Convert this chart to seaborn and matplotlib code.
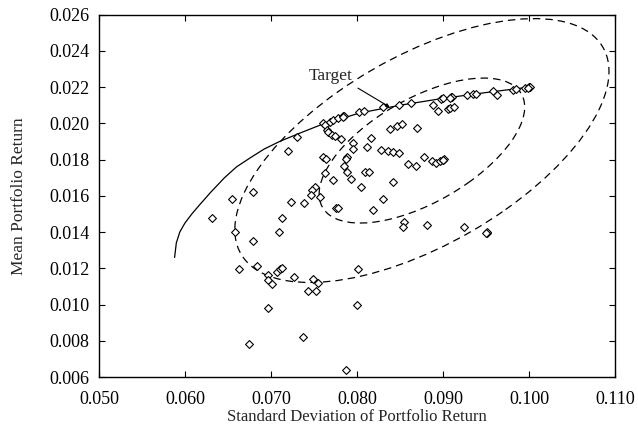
import numpy as np
import pandas as pd
import matplotlib
matplotlib.use("Agg")
import matplotlib.pyplot as plt
import matplotlib.transforms as transforms
from matplotlib.patches import Ellipse
import seaborn as sns

# ── Data ──────────────────────────────────────────────────────────────────────
port_std = [
    0.07306, 0.07200, 0.07608, 0.07628, 0.07647, 0.07660, 0.07705, 0.07744,
    0.07814, 0.07686, 0.07725, 0.07783, 0.07841, 0.07850, 0.07835, 0.08023,
    0.08081, 0.08306, 0.08488, 0.08628, 0.08888, 0.08946, 0.08977, 0.09004,
    0.09093, 0.09100, 0.09085, 0.09062, 0.09081, 0.09132, 0.09275, 0.09345,
    0.09384, 0.09585, 0.09632, 0.09810, 0.09849, 0.09953, 0.10004, 0.09995,
    0.10010, 0.09990,
    0.08384, 0.08461, 0.08520, 0.08694, 0.08160, 0.07957, 0.07957, 0.08113,
    0.08279, 0.08364, 0.08422, 0.08492, 0.07601, 0.07640, 0.07880, 0.07872,
    0.08597, 0.08686, 0.07853, 0.07880, 0.08093, 0.08143, 0.07628, 0.07725,
    0.07930, 0.08414, 0.08043, 0.07512, 0.07480, 0.07462, 0.07570, 0.08306,
    0.07229, 0.07384, 0.07756, 0.07783, 0.08183, 0.07124, 0.08547, 0.08539,
    0.08783, 0.08868, 0.08919, 0.08965, 0.09004, 0.09010, 0.08998, 0.08810,
    0.09248, 0.09508, 0.09515, 0.09500, 0.06795, 0.06550, 0.06317, 0.06581,
    0.06787, 0.07093, 0.06631, 0.06833, 0.06969, 0.06969, 0.07015, 0.07066,
    0.07105, 0.07132, 0.06961, 0.06748, 0.07264, 0.07484, 0.07550, 0.07427,
    0.07520, 0.08008, 0.08004, 0.07372, 0.07868,
]
port_mean = [
    0.01924, 0.01850, 0.02003, 0.01990, 0.01965, 0.01950, 0.01937, 0.01928,
    0.01913, 0.02010, 0.02020, 0.02029, 0.02038, 0.02040, 0.02035, 0.02060,
    0.02066, 0.02088, 0.02099, 0.02110, 0.02103, 0.02070, 0.02136, 0.02140,
    0.02145, 0.02148, 0.02142, 0.02080, 0.02084, 0.02090, 0.02154, 0.02162,
    0.02163, 0.02176, 0.02154, 0.02182, 0.02191, 0.02195, 0.02198, 0.02200,
    0.02202, 0.02196,
    0.01970, 0.01988, 0.01996, 0.01974, 0.01922, 0.01891, 0.01860, 0.01871,
    0.01852, 0.01845, 0.01841, 0.01834, 0.01817, 0.01804, 0.01816, 0.01803,
    0.01775, 0.01766, 0.01764, 0.01734, 0.01731, 0.01734, 0.01725, 0.01687,
    0.01694, 0.01679, 0.01651, 0.01651, 0.01633, 0.01604, 0.01593, 0.01583,
    0.01568, 0.01560, 0.01535, 0.01532, 0.01523, 0.01480, 0.01458, 0.01429,
    0.01817, 0.01790, 0.01781, 0.01790, 0.01799, 0.01802, 0.01796, 0.01440,
    0.01430, 0.01397, 0.01400, 0.01394, 0.01620, 0.01582, 0.01480, 0.01400,
    0.01351, 0.01400, 0.01198, 0.01215, 0.01164, 0.01136, 0.01114, 0.01182,
    0.01195, 0.01204, 0.00981, 0.00784, 0.01154, 0.01141, 0.01121, 0.01077,
    0.01075, 0.01195, 0.00996, 0.00819, 0.00639,
]

frontier_std = [0.0588, 0.0590, 0.0594, 0.0600, 0.0608, 0.0617, 0.0630,
                0.0646, 0.0660, 0.0676, 0.0692, 0.0710, 0.0733, 0.0757,
                0.0803, 0.0850, 0.0900, 0.0950, 0.1000]
frontier_mean = [0.0126, 0.0134, 0.0140, 0.0145, 0.0150, 0.0155, 0.0162,
                 0.0170, 0.0176, 0.0181, 0.01858, 0.0190, 0.01945, 0.0199,
                 0.02057, 0.0210, 0.02138, 0.0217, 0.0220]

# confidence ellipses: common centre / spread / correlation, two sizes
ell_center = (0.08755, 0.0185)
ell_spread = (0.01195, 0.0040)
ell_rho = 0.6
ell_scales = [1.0, 1.82]

target_xy = (0.0838, 0.0209)
target_text_xy = (0.0769, 0.02263)

x_ticks = [0.050, 0.060, 0.070, 0.080, 0.090, 0.100, 0.110]
y_ticks = [0.006, 0.008, 0.010, 0.012, 0.014, 0.016, 0.018, 0.020,
           0.022, 0.024, 0.026]

# ── Style ─────────────────────────────────────────────────────────────────────
sns.set_style("ticks")
plt.rcParams.update({
    "font.family": ["Liberation Serif", "DejaVu Serif"],
    "font.size": 12,
    "xtick.direction": "in",
    "ytick.direction": "in",
    "xtick.top": True,
    "ytick.right": True,
    "xtick.major.size": 4,
    "ytick.major.size": 4,
    "axes.linewidth": 1.0,
    "axes.edgecolor": "black",
    "xtick.color": "black",
    "ytick.color": "black",
})


def add_ellipse(ax, scale):
    rx = np.sqrt(1 + ell_rho)
    ry = np.sqrt(1 - ell_rho)
    ell = Ellipse((0, 0), width=2 * rx, height=2 * ry, facecolor="none",
                  edgecolor="black", linestyle=(0, (6, 4)), linewidth=0.9)
    tr = (transforms.Affine2D().rotate_deg(45)
          .scale(ell_spread[0] * scale, ell_spread[1] * scale)
          .translate(*ell_center))
    ell.set_transform(tr + ax.transData)
    ax.add_patch(ell)


fig, ax = plt.subplots(figsize=(6.38, 4.30), dpi=100)
fig.subplots_adjust(left=0.155, right=0.964, top=0.966, bottom=0.123)

pts = pd.DataFrame({"std": port_std, "mean": port_mean})
front = pd.DataFrame({"std": frontier_std, "mean": frontier_mean})

sns.lineplot(data=front, x="std", y="mean", sort=False, color="black",
             linewidth=0.9, ax=ax)
for s in ell_scales:
    add_ellipse(ax, s)
sns.scatterplot(data=pts, x="std", y="mean", marker="D", s=16,
                facecolor="white", edgecolor="black", linewidth=0.8, ax=ax,
                zorder=3)

ax.annotate("Target", xy=target_xy, xytext=target_text_xy,
            ha="center", va="center", fontsize=12.5,
            arrowprops=dict(arrowstyle="-|>", color="black", lw=0.8,
                            mutation_scale=5, shrinkA=2, shrinkB=0,
                            relpos=(0.9, 0.1)))

ax.set_xlim(0.050, 0.110)
ax.set_ylim(0.006, 0.026)
ax.set_xticks(x_ticks)
ax.set_yticks(y_ticks)
ax.set_xticklabels([f"{v:.3f}" for v in x_ticks])
ax.set_yticklabels([f"{v:.3f}" for v in y_ticks])
ax.set_xlabel("Standard Deviation of Portfolio Return", labelpad=1)
ax.set_ylabel("Mean Portfolio Return", fontsize=12.5, labelpad=16)
ax.tick_params(labelsize=13)
ax.tick_params(axis="x", pad=10)
ax.tick_params(axis="y", pad=7)

fig.savefig("out.png", dpi=100)
